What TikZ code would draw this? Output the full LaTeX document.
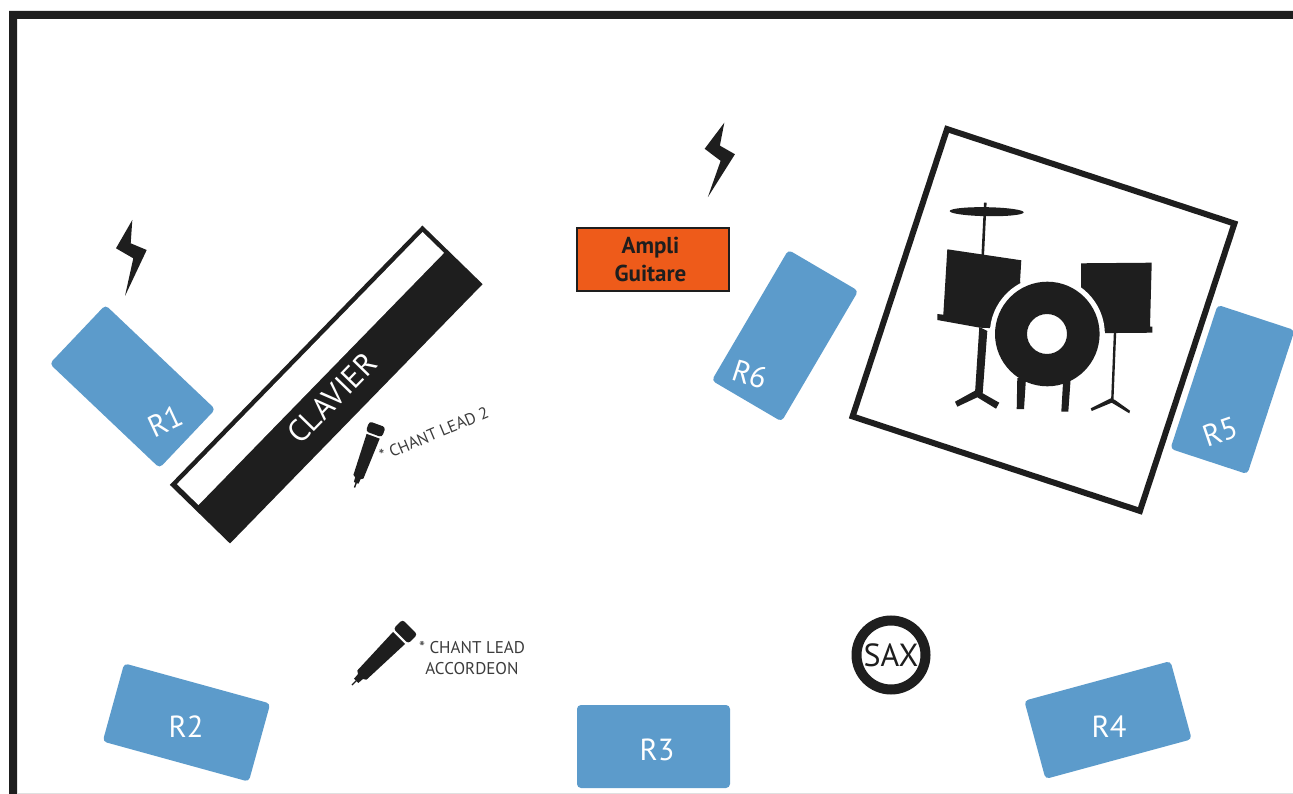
\documentclass[tikz,border=0pt]{standalone}
\usepackage{fontspec}
\setmainfont{PT Sans}
\usetikzlibrary{shapes.geometric, positioning}
\definecolor{retour}{HTML}{5C9BCB}
\definecolor{ampli}{HTML}{EE5B1A}
\definecolor{noir}{HTML}{1E1E1E}
\definecolor{gris}{HTML}{3C3C3C}

\begin{document}
\begin{tikzpicture}[
    x=1pt, y=-1pt,
    every node/.style={font=\fontsize{17}{20.5}\selectfont},
    ret/.style={rectangle, fill=retour, rounded corners=4pt, inner sep=0pt,
                minimum width=151.5pt, minimum height=81pt},
    retlbl/.style={text=white, inner sep=0pt, font=\fontsize{30.5}{33}\selectfont},
    micro/.style={text=gris, inner sep=0pt, align=center},
    barre/.style={rectangle, inner sep=0pt},
    fut/.style={fill=noir},
    pics/bolt/.style={code={
        \fill[noir] (0,0) -- (-1.6,23.3) -- (14.4,30) -- (-7.3,76)
                    -- (1,38.3) -- (-16.3,28.3) -- cycle;
    }},
    pics/mic/.style={code={
        \draw[noir, line width=1.4pt] (0,0) -- (9,0);
        \fill[noir] (6,-3) -- (12,-3.5) -- (14,-6.5) -- (66.5,-8.5) -- (66.5,8.5)
                    -- (14,6.5) -- (12,3.5) -- (6,3) -- cycle;
        \fill[noir, rounded corners=3pt] (69,-10.5) rectangle (82,10.5);
    }}
]
    \useasboundingbox (0,0) rectangle (1293,794);
    \fill[white] (0,0) rectangle (1293,794);

    % cadre de la scene
    \fill[noir] (9,794) |- (1293,11) |- (17,19) |- cycle;
    \draw[black!12, line width=1pt] (17,793.5) -- (1293,793.5);

    % retours
    \node[ret, rotate=-43.5] (r1) at (132.5,386.5) {};
    \node[ret, rotate=-15.4] (r2) at (186.5,722.5) {};
    \node[ret, minimum width=153pt, minimum height=83pt] (r3) at (653.5,746.5) {};
    \node[ret, rotate=15.2]  (r4) at (1108,720) {};
    \node[ret, rotate=71.8]  (r5) at (1232.5,389.5) {};
    \node[ret, rotate=59.6]  (r6) at (785,335.7) {};
    \node[retlbl, rotate=25]  (t1) at (165.5,421) {R1};
    \node[retlbl]             (t2) at (186,727) {R2};
    \node[retlbl]             (t3) at (657,750) {R3};
    \node[retlbl]             (t4) at (1109,727) {R4};
    \node[retlbl, rotate=19]  (t5) at (1220.7,432) {R5};
    \node[retlbl, rotate=-18] (t6) at (750,374.3) {R6};

    % clavier
    \node[barre, fill=noir, minimum width=362pt, minimum height=84pt, rotate=45.75] (clav) at (326.2,384.5) {};
    \node[barre, fill=white, minimum width=352pt, minimum height=30pt, rotate=45.75] (touches) at (310.5,368.5) {};
    \node[text=white, inner sep=0pt, rotate=45.75, font=\fontsize{31}{34}\selectfont] (tclav) at (332,398) {CLAVIER};

    % ampli
    \node[rectangle, draw=noir, fill=ampli, line width=2.4pt, inner sep=0pt, minimum width=152pt,
          minimum height=63pt] (amp) at (653,259.5) {};
    \node[align=center, text=noir, inner sep=0pt,
          font=\fontsize{23}{28}\selectfont\bfseries] (tamp) at (650.5,259.5) {Ampli\\Guitare};

    \pic at (132.3,220) {bolt};
    \pic[rotate=-7] at (724.3,122.7) {bolt};

    % batterie
    \node[rectangle, draw=noir, line width=6pt, inner sep=0pt, minimum size=302.5pt, rotate=-18.2] (bat) at (1043.5,320) {};
    \fill[fut, rotate around={-1:(986.7,211.7)}] (986.7,211.7) ellipse (37 and 4.5);
    \draw[noir, line width=2.6pt] (985.3,202.7) -- (982.7,256);
    \fill[fut] (947.3,249.3) -- (1021.3,260.3) -- (1020,281.7) -- (1040,330) -- (980,327.7)
               -- (937.3,320) -- (937.3,314) -- (943.3,314.7) -- cycle;
    \fill[fut] (1081,263.3) -- (1151.7,262.7) -- (1150,326.7) -- (1152.3,326.7) -- (1152.3,332.7)
               -- (1060,333.5) -- (1081,300) -- cycle;
    \fill[white] (1047.3,334) circle (57.5);
    \fill[fut] (979.3,327) -- (987.3,331) -- (982.7,393) -- (975,393) -- cycle;
    \fill[fut] (955,401.7) -- (975,390.7) -- (982.7,393.3) -- (999.3,402.7) -- (996,408.7)
               -- (977.3,397.3) -- (957.3,406.7) -- cycle;
    \fill[fut] (1017.3,378) -- (1026,378) -- (1024,409) -- (1016.7,409) -- cycle;
    \fill[fut] (1063.3,378) -- (1070.7,378) -- (1068.3,411.7) -- (1061.3,411.7) -- cycle;
    \draw[noir, line width=2.4pt] (1115,333) -- (1112.3,400);
    \fill[fut] (1090.7,408.3) -- (1110.7,398.3) -- (1115,400) -- (1130,410.7) -- (1129.3,413.3)
               -- (1111.7,402.7) -- (1091.7,411) -- cycle;
    \fill[fut, even odd rule] (1047.3,334) circle (52.3) (1047,334) circle (20);

    % micros
    \pic[rotate=45] at (352,685) {mic};
    \pic[rotate=70, scale=.82] at (354.5,487.5) {mic};
    \node[micro] (chant) at (472,658) {* CHANT LEAD\\ACCORDEON};
    \node[micro, rotate=22.8, font=\fontsize{16.5}{19}\selectfont] (chant2) at (434,434) {* CHANT LEAD 2};

    % sax
    \node[circle, draw=noir, line width=10pt, inner sep=0pt, minimum size=69pt, text=noir,
          font=\fontsize{32}{35}\selectfont] (sax) at (891,655) {SAX};
\end{tikzpicture}
\end{document}
